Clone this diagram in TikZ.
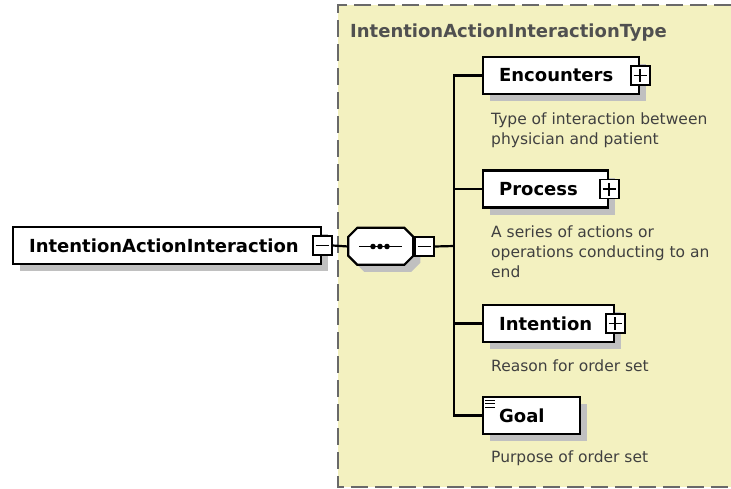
\documentclass[tikz,border=0pt]{standalone}
\usepackage{fontspec}
\setmainfont{DejaVu Sans}
\usepackage{xcolor}
\usetikzlibrary{shadows,positioning}

\definecolor{fondotipo}{RGB}{243,241,192}
\definecolor{sombra}{RGB}{192,192,192}
\definecolor{borde}{RGB}{105,105,105}
\definecolor{gristitulo}{RGB}{80,80,80}
\definecolor{gristexto}{RGB}{64,64,64}

\begin{document}
\begin{tikzpicture}[x=1pt,y=-1pt,
    elem/.style={draw, line width=2.2pt, fill=white, font=\bfseries\fontsize{18}{20}\selectfont,
        inner xsep=16pt, inner ysep=0pt, minimum height=37pt, align=left, anchor=west,
        drop shadow={shadow xshift=7pt, shadow yshift=-7pt, fill=sombra, opacity=1}},
    expbox/.style={draw, line width=1.8pt, fill=white, minimum size=19pt, inner sep=0pt},
    plusbox/.style={expbox, path picture={
        \draw[line width=1.8pt] ([xshift=3pt]path picture bounding box.west) -- ([xshift=-3pt]path picture bounding box.east)
            ([yshift=3pt]path picture bounding box.south) -- ([yshift=-3pt]path picture bounding box.north);}},
    minusbox/.style={expbox, path picture={
        \draw[line width=1.8pt] ([xshift=3pt]path picture bounding box.west) -- ([xshift=-3pt]path picture bounding box.east);}},
    desc/.style={font=\fontsize{15.5}{20}\selectfont, text=gristexto, align=left, anchor=base west, inner sep=0pt},
    conn/.style={line width=2.2pt}
]
    \useasboundingbox (0,0) rectangle (731,488);

    % area del tipo complejo
    \fill[fondotipo] (338,5) rectangle (731,487);
    \draw[borde, line width=2pt, dash pattern=on 17pt off 7pt] (731,5) -- (338,5) -- (338,487) -- (731,487);
    \node[font=\bfseries\fontsize{18}{20}\selectfont, text=gristitulo, anchor=base west, inner sep=0pt] (titulo) at (350,37.5) {IntentionActionInteractionType};

    % elemento raiz
    \node[elem, text width=276pt] (root) at (12,245.5) {IntentionActionInteraction};
    \node[minusbox] (rootminus) at (root.east) {};

    % secuencia (octagono)
    \node[minimum width=65pt, minimum height=37pt, inner sep=0pt] (seq) at (381,246.5) {};
    \fill[sombra] ([shift={(16,7)}]seq.north west) -- ++(47,0) -- ++(9,9) -- ++(0,19) -- ++(-9,9)
        -- ++(-47,0) -- ++(-9,-9) -- ++(0,-19) -- cycle;
    \draw[line width=2.2pt, fill=white] ([xshift=9pt]seq.north west) -- ++(47,0) -- ++(9,9) -- ++(0,19) -- ++(-9,9)
        -- ++(-47,0) -- ++(-9,-9) -- ++(0,-19) -- cycle;
    \draw[line width=1.8pt] ([xshift=-22pt]seq.center) -- ([xshift=21pt]seq.center);
    \foreach \dx in {-8,-1,6}
        \fill ([xshift=\dx pt]seq.center) circle (2.8pt);
    \node[minusbox, right=0pt of seq] (seqminus) {};
    \coordinate (bus) at (454,246);

    % elementos hijos
    \node[elem, text width=124pt] (encounters) at (482,75.5) {Encounters};
    \node[plusbox] (encplus) at (encounters.east) {};
    \node[elem, text width=93pt] (process) at (482,189) {Process};
    \node[plusbox] (procplus) at (process.east) {};
    \node[elem, text width=99pt] (intention) at (482,323.5) {Intention};
    \node[plusbox] (intplus) at (intention.east) {};
    \node[elem, text width=65pt] (goal) at (482,415.5) {Goal};
    \foreach \dy in {4.5,8,11.5}
        \draw[line width=1.1pt] ([shift={(3,\dy)}]goal.north west) -- ++(10,0);

    % descripciones
    \node[desc] (encdesc) at (491,144) {Type of interaction between\\physician and patient};
    \node[desc] (procdesc) at (491,277) {A series of actions or\\operations conducting to an\\end};
    \node[desc] (intdesc) at (491,371) {Reason for order set};
    \node[desc] (goaldesc) at (491,462.5) {Purpose of order set};

    % conectores
    \draw[conn] (rootminus.east) -- (seq.west);
    \draw[conn] (seqminus.east) -- (bus);
    \draw[conn] (encounters.west) -- (encounters.west -| bus) -- (goal.west -| bus) -- (goal.west);
    \draw[conn] (process.west -| bus) -- (process.west);
    \draw[conn] (intention.west -| bus) -- (intention.west);

\end{tikzpicture}
\end{document}
